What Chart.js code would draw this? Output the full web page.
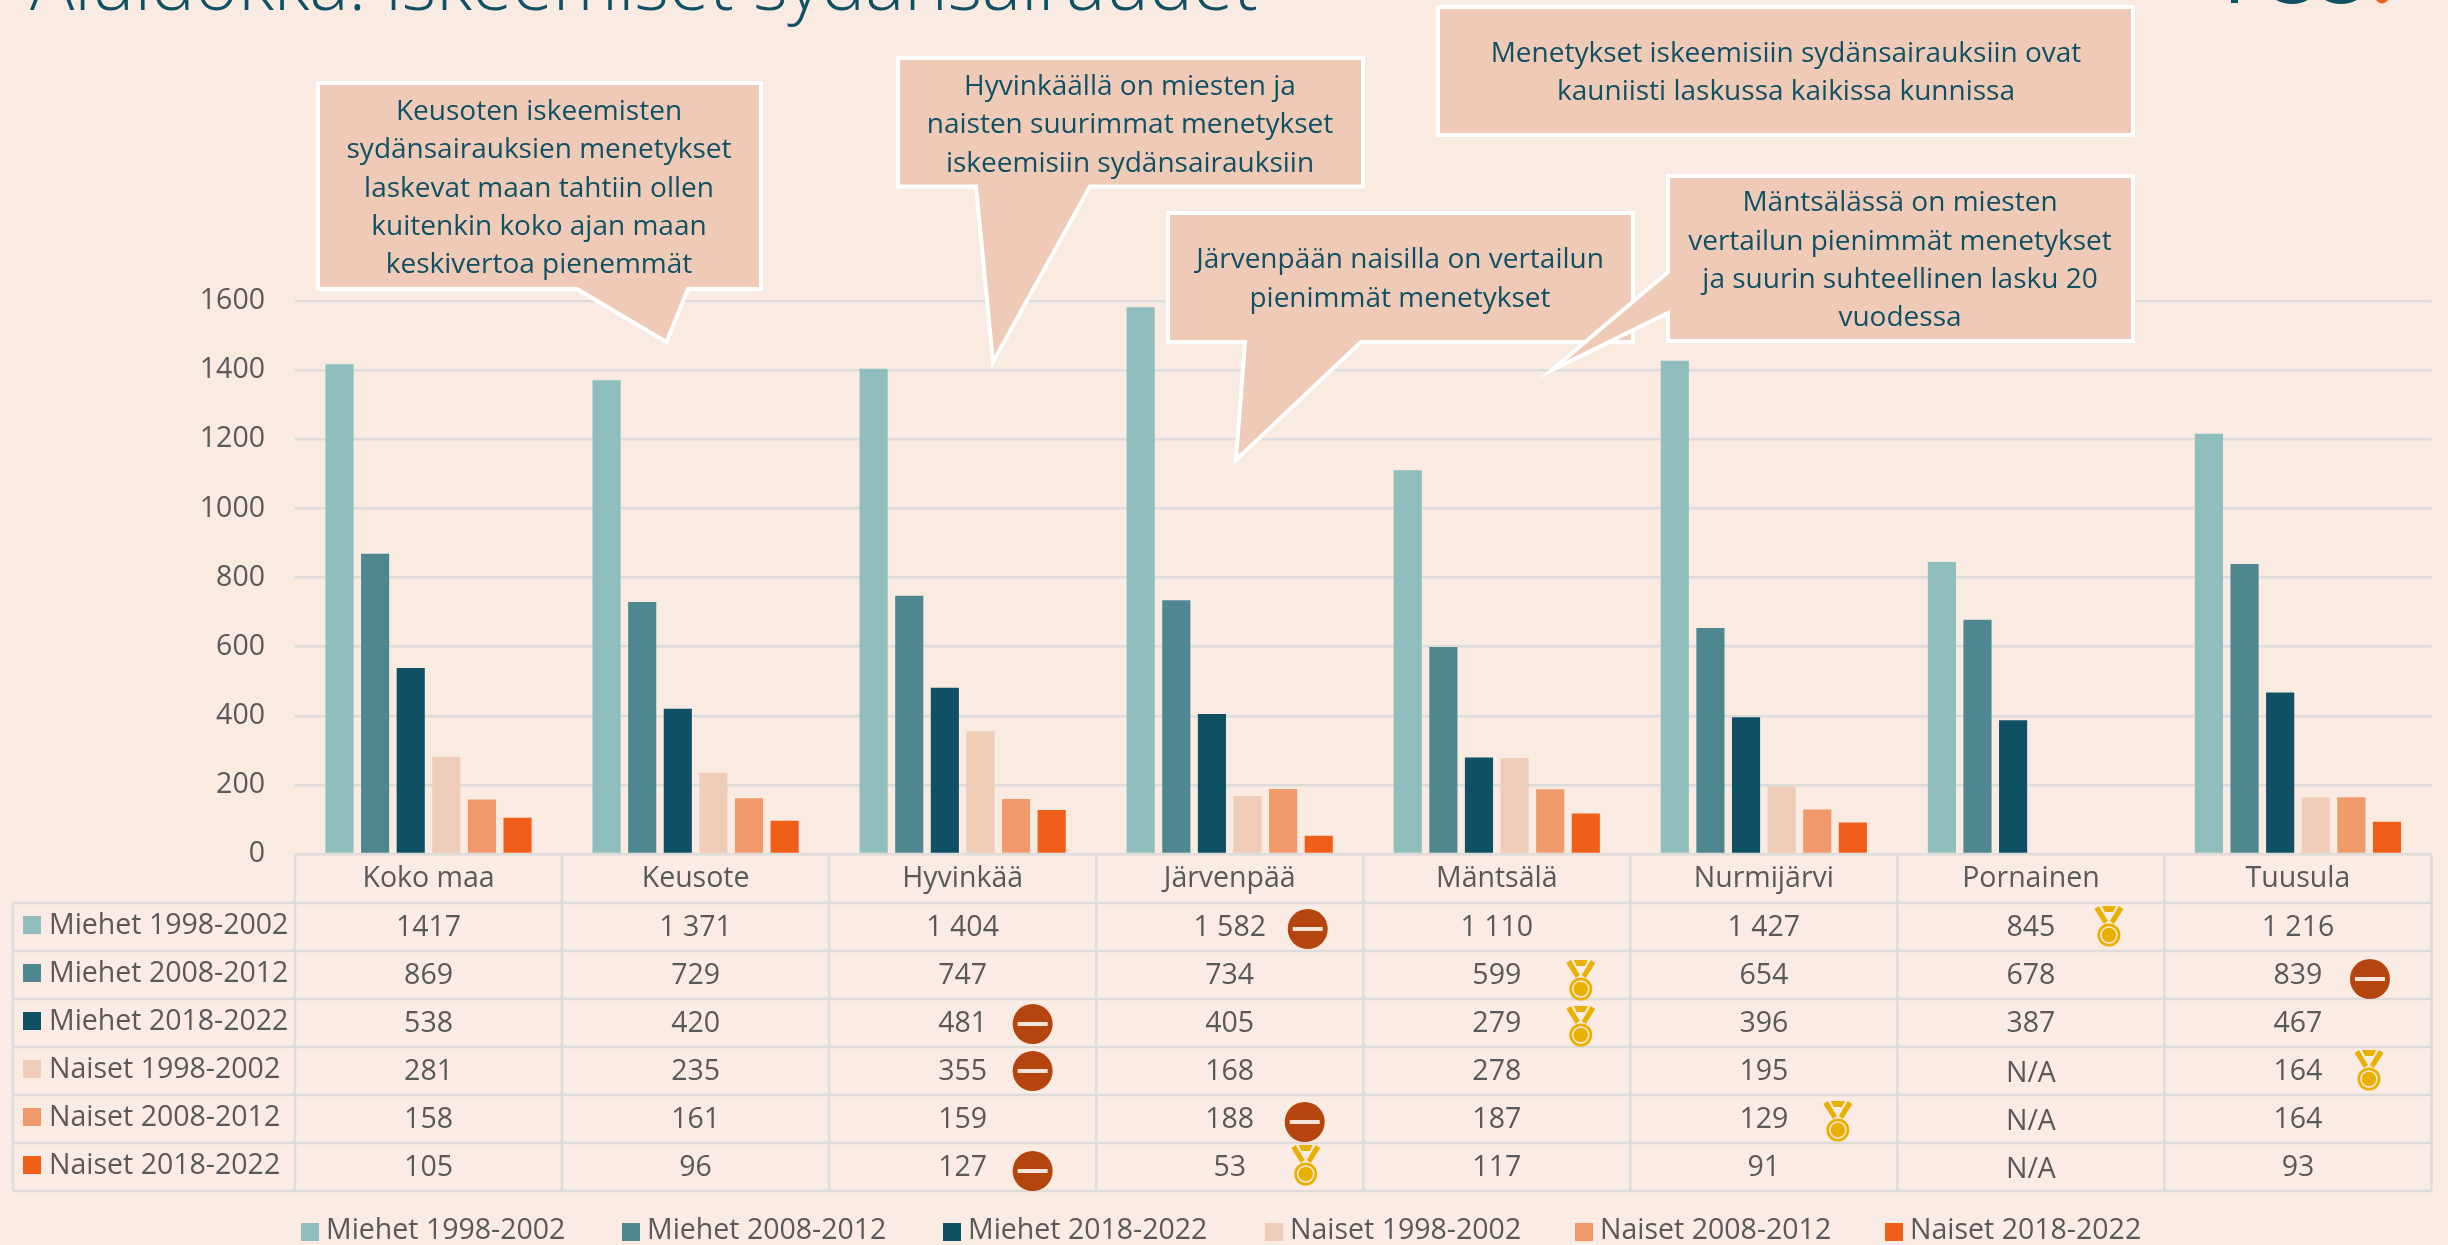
<!DOCTYPE html>
<html><head><meta charset="utf-8">
<script src="https://cdn.jsdelivr.net/npm/chart.js@4"></script>
<style>html,body{margin:0;padding:0;background:#F9EAE2}canvas{display:block}</style>
</head><body><div style="width:2448px;height:1245px;position:relative"><canvas id="c"></canvas></div>
<script>
const categories = ['Koko maa','Keusote','Hyvinkää','Järvenpää','Mäntsälä','Nurmijärvi','Pornainen','Tuusula'];
const seriesNames = ['Miehet 1998-2002','Miehet 2008-2012','Miehet 2018-2022','Naiset 1998-2002','Naiset 2008-2012','Naiset 2018-2022'];
const miehet1998 = [1417,1371,1404,1582,1110,1427,845,1216];
const miehet2008 = [869,729,747,734,599,654,678,839];
const miehet2018 = [538,420,481,405,279,396,387,467];
const naiset1998 = [281,235,355,168,278,195,null,164];
const naiset2008 = [158,161,159,188,187,129,null,164];
const naiset2018 = [105,96,127,53,117,91,null,93];
const yTicks = [0,200,400,600,800,1000,1200,1400,1600];
const colors = ['#8FBEBC','#4F8791','#0F5064','#EFCCB8','#F09A6C','#F05F1A'];
const allSeries = [miehet1998,miehet2008,miehet2018,naiset1998,naiset2008,naiset2018];

const TITLE = 'Aluidokka: iskeemiset sydänsairaudet';
const FONT = '"Open Sans"';
const TEXT = '#595959', TEAL = '#0F5064', LINE = '#DEDCDA';

// [series, category, dx from cell centre, dy from row centre]
const worstMarks = [[2,2,70,1],[3,2,70,0],[5,2,70,4],[0,3,78,2],[4,3,75,3],[1,7,72,4]];
const bestMarks = [[0,6,78,-1],[1,4,84,5],[2,4,84,3],[3,7,71,-1],[4,5,74,2],[5,3,76,-2]];

const callouts = [
 {box:[318,83,761,289], tail:[[577,289],[666.5,342],[688,289]], cx:539, lines:['Keusoten iskeemisten','sydänsairauksien menetykset','laskevat maan tahtiin ollen','kuitenkin koko ajan maan','keskivertoa pienemmät'], y:[112,150.3,188.6,227,265.3]},
 {box:[898,58,1363,186.5], tail:[[976,186.5],[993,362],[1090,186.5]], cx:1130, lines:['Hyvinkäällä on miesten ja','naisten suurimmat menetykset','iskeemisiin sydänsairauksiin'], y:[87,125.3,163.6]},
 {box:[1168,213,1633,342], tail:[[1245,342],[1236,460],[1361,342]], cx:1400, lines:['Järvenpään naisilla on vertailun','pienimmät menetykset'], y:[260.3,298.6]},
 {box:[1438,7,2133,135], cx:1786, lines:['Menetykset iskeemisiin sydänsairauksiin ovat','kauniisti laskussa kaikissa kunnissa'], y:[54,92.3]},
 {box:[1668,176,2133,341], tail:[[1668,272],[1552,370],[1668,313]], cx:1900, lines:['Mäntsälässä on miesten','vertailun pienimmät menetykset','ja suurin suhteellinen lasku 20','vuodessa'], y:[203.3,241.6,280,318.3]}
];
const legendX = [301,622,943,1265,1575,1885];

function fmt(v,s,c){
  if(v===null) return 'N/A';
  if(s===0&&c===0) return String(v);
  return v>=1000 ? String(v).replace(/^(\d)/,'$1 ') : String(v);
}
function drawWorst(ctx,x,y){
  ctx.fillStyle='#B4450E';ctx.beginPath();ctx.arc(x,y,20,0,Math.PI*2);ctx.fill();
  ctx.fillStyle='#F6E3D8';ctx.fillRect(x-15,y-2,30,4);
}
function drawBest(ctx,x,y){
  ctx.fillStyle='#EAB000';
  const t=y-20;
  ctx.beginPath();ctx.moveTo(x-14.5,t+3);ctx.lineTo(x-10,t);ctx.lineTo(x-1,t+15);ctx.lineTo(x-5,t+18);ctx.closePath();ctx.fill();
  ctx.beginPath();ctx.moveTo(x+14.5,t+3);ctx.lineTo(x+10,t);ctx.lineTo(x+1,t+15);ctx.lineTo(x+5,t+18);ctx.closePath();ctx.fill();
  ctx.beginPath();ctx.moveTo(x-7,t);ctx.lineTo(x+7,t);ctx.lineTo(x+4,t+6);ctx.lineTo(x-4,t+6);ctx.closePath();ctx.fill();
  ctx.beginPath();ctx.arc(x,y+9,11.5,0,Math.PI*2);ctx.fill();
  ctx.strokeStyle='#F9EAE2';ctx.lineWidth=1.5;ctx.beginPath();ctx.arc(x,y+9,8,0,Math.PI*2);ctx.stroke();
}

const overlay = {
 id:'overlay',
 beforeDraw(chart){
   const ctx=chart.ctx;ctx.save();
   ctx.fillStyle='#F9EAE2';ctx.fillRect(0,0,2448,1245);
   ctx.fillStyle='#FAEBE4';ctx.fillRect(0,855,2448,390);
   ctx.restore();
 },
 afterDraw(chart){
   const ctx=chart.ctx, xs=chart.scales.x, ca=chart.chartArea;
   const colW=(ca.right-ca.left)/categories.length, rowTop=903, rowH=48;
   ctx.save();
   // table grid
   ctx.strokeStyle=LINE;ctx.lineWidth=2.5;ctx.beginPath();
   for(let c=0;c<=categories.length;c++){const x=ca.left+c*colW;ctx.moveTo(x,ca.bottom);ctx.lineTo(x,rowTop+6*rowH);}
   for(let r=0;r<=6;r++){const y=rowTop+r*rowH;ctx.moveTo(13,y);ctx.lineTo(ca.right,y);}
   ctx.moveTo(13,rowTop);ctx.lineTo(13,rowTop+6*rowH);
   ctx.stroke();
   // rows
   ctx.font='28.5px '+FONT;ctx.textBaseline='middle';
   seriesNames.forEach((n,s)=>{
     const cy=rowTop+s*rowH+rowH/2;
     ctx.fillStyle=colors[s];ctx.fillRect(23,cy-11,18,18);
     ctx.fillStyle=TEXT;ctx.textAlign='left';ctx.fillText(n,49,cy-1);
     ctx.textAlign='center';
     categories.forEach((_,c)=>{
       const v=allSeries[s][c];
       ctx.fillText(fmt(v,s,c),xs.getPixelForValue(c),cy+(v===null?2.5:1));
     });
   });
   worstMarks.forEach(([s,c,dx,dy])=>drawWorst(ctx,xs.getPixelForValue(c)+dx,rowTop+s*rowH+rowH/2+dy));
   bestMarks.forEach(([s,c,dx,dy])=>drawBest(ctx,xs.getPixelForValue(c)+dx,rowTop+s*rowH+rowH/2+dy));
   // legend
   seriesNames.forEach((n,s)=>{
     ctx.fillStyle=colors[s];ctx.fillRect(legendX[s],1223,18,18);
     ctx.fillStyle=TEXT;ctx.textAlign='left';ctx.fillText(n,legendX[s]+25,1231);
   });
   // title (cropped at the top edge)
   ctx.fillStyle=TEAL;ctx.textBaseline='alphabetic';ctx.textAlign='left';
   ctx.font='300 73.7px '+FONT;ctx.fillText(TITLE,30,10);
   // logo remnant
   ctx.fillStyle=TEAL;ctx.fillRect(2231,0,7,3);
   ctx.beginPath();ctx.ellipse(2292,-12,24,16,0,0,Math.PI*2);ctx.fill();
   ctx.beginPath();ctx.ellipse(2341,-12,24,16,0,0,Math.PI*2);ctx.fill();
   ctx.fillStyle='#F05F1A';ctx.beginPath();ctx.arc(2382,-3,6.5,0,Math.PI*2);ctx.fill();
   // callouts
   callouts.forEach(k=>{
     const [l,t,r,b]=k.box;
     ctx.beginPath();
     if(k.tail && k.tail[0][0]===l){
       ctx.moveTo(l,t);ctx.lineTo(r,t);ctx.lineTo(r,b);ctx.lineTo(l,b);
       ctx.lineTo(k.tail[2][0],k.tail[2][1]);ctx.lineTo(k.tail[1][0],k.tail[1][1]);ctx.lineTo(k.tail[0][0],k.tail[0][1]);
     } else if(k.tail){
       ctx.moveTo(l,t);ctx.lineTo(r,t);ctx.lineTo(r,b);
       ctx.lineTo(k.tail[2][0],b);ctx.lineTo(k.tail[1][0],k.tail[1][1]);ctx.lineTo(k.tail[0][0],b);ctx.lineTo(l,b);
     } else ctx.rect(l,t,r-l,b-t);
     ctx.closePath();
     ctx.fillStyle='#EFCBB7';ctx.fill();
     ctx.strokeStyle='#FFFFFF';ctx.lineWidth=4;ctx.lineJoin='miter';ctx.miterLimit=10;ctx.stroke();
     ctx.fillStyle=TEAL;ctx.font='28px '+FONT;ctx.textAlign='center';ctx.textBaseline='middle';
     k.lines.forEach((ln,i)=>ctx.fillText(ln,k.cx,k.y[i]));
   });
   ctx.restore();
 }
};

Chart.defaults.font.family=FONT;
new Chart(document.getElementById('c'),{
 type:'bar',
 data:{labels:categories,datasets:seriesNames.map((n,i)=>({label:n,data:allSeries[i],backgroundColor:colors[i],categoryPercentage:0.8,barPercentage:0.79}))},
 plugins:[overlay],
 options:{
  responsive:true,maintainAspectRatio:false,animation:false,
  layout:{padding:{left:0,right:16.5,top:301,bottom:342}},
  plugins:{legend:{display:false},tooltip:{enabled:false}},
  scales:{
   x:{afterFit(s){s.height=49;},grid:{display:false},border:{display:false},
      ticks:{color:TEXT,font:{size:28.5},padding:0,maxRotation:0,autoSkip:false}},
   y:{min:0,max:1600,afterFit(s){s.width=295;},afterBuildTicks(s){s.ticks=yTicks.map(v=>({value:v}));},
      grid:{color:LINE,lineWidth:2.5,drawTicks:false},border:{display:false},
      ticks:{color:TEXT,font:{size:28.5},padding:30,callback:v=>String(v)}}
  }
 }
});
</script></body></html>
